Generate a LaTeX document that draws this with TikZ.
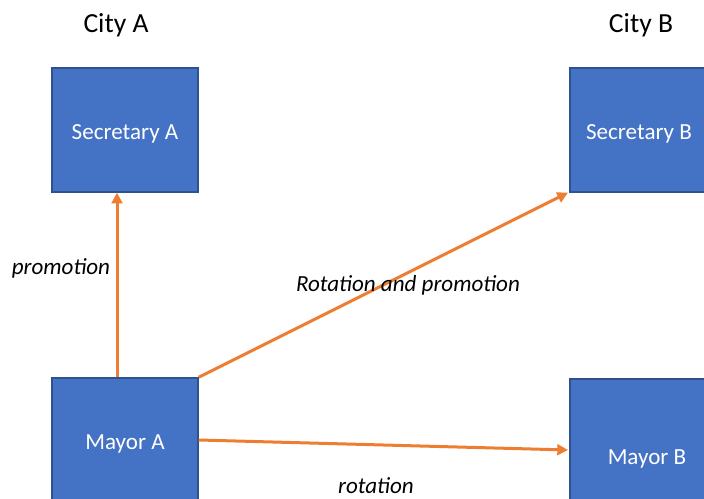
\documentclass[tikz,border=0pt]{standalone}
\usepackage{fontspec}
\setmainfont{Carlito}
\usepackage{tikz}
\usetikzlibrary{arrows.meta}
\definecolor{boxblue}{HTML}{4472C4}
\definecolor{boxedge}{HTML}{2F528F}
\definecolor{arrorange}{HTML}{ED7D31}

\begin{document}
\begin{tikzpicture}[x=0.75pt, y=-0.75pt,
  box/.style={draw=boxedge, fill=boxblue, line width=1pt, text=white, font=\fontsize{17.3}{20}\selectfont, text height=13.6pt, text depth=0pt, minimum width=109.5pt, minimum height=93pt, inner sep=0pt},
  city/.style={font=\fontsize{20.7}{24}\selectfont},
  lab/.style={font=\fontsize{17.3}{20}\selectfont\itshape},
  arr/.style={draw=arrorange, line width=2.25pt, -{Triangle[length=8pt,width=8pt]}}]
\useasboundingbox (0,0) rectangle (704,499);
\clip (0,0) rectangle (704,499);
\node[city] (cityA) at (116,25) {City A};
\node[city] (cityB) at (641,25) {City B};
\node[box] (secA) at (125,130) {Secretary A};
\node[box, minimum width=103.5pt] (secB) at (639,130) {Secretary B};
\node[box] (mayA) at (125,440) {Mayor A};
\node[box, minimum width=115.5pt, minimum height=114pt] (mayB) at (647,455) {Mayor B};
\draw[arr] ([xshift=-6pt]mayA.north) -- ([xshift=-6pt]secA.south);
\draw[arr] (mayA.north east) -- ([xshift=-1pt]secB.south west);
\draw[arr] (mayA.east) -- ([xshift=-1pt, yshift=3.75pt]mayB.west);
\node[lab] (promo) at (61,268) {promotion};
\node[lab] (rotpromo) at (408,285) {Rotation and promotion};
\node[lab] (rot) at (376,486) {rotation};
\end{tikzpicture}
\end{document}
